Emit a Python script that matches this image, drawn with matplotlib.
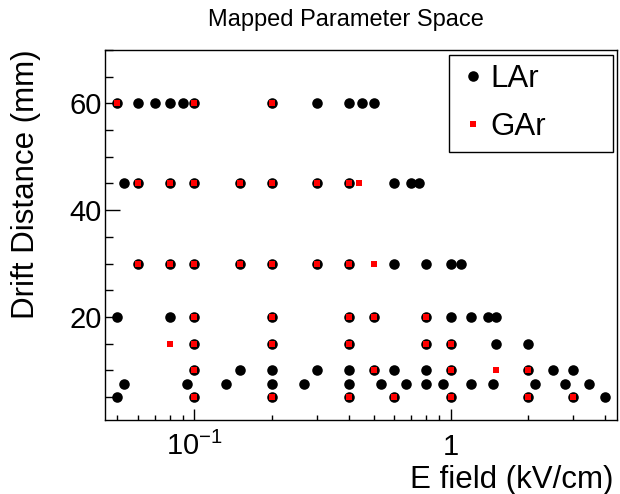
import matplotlib.pyplot as plt
from matplotlib.ticker import LogLocator, MultipleLocator, NullFormatter, FixedLocator

plt.rcParams['font.family'] = ['Liberation Sans', 'DejaVu Sans']
plt.rcParams['mathtext.fontset'] = 'custom'
plt.rcParams['mathtext.rm'] = 'Liberation Sans'

# drift distances (mm) and the fields (kV/cm) scanned at each one
distances = [60, 45, 30, 20, 15, 10, 7.5, 5]

lar_fields = [
    [0.05, 0.06, 0.07, 0.08, 0.09, 0.1, 0.2, 0.3, 0.4, 0.45, 0.5],
    [0.0533, 0.06, 0.08, 0.1, 0.15, 0.2, 0.3, 0.4, 0.6, 0.7, 0.75],
    [0.06, 0.08, 0.1, 0.15, 0.2, 0.3, 0.4, 0.6, 0.8, 1.0, 1.1],
    [0.05, 0.08, 0.1, 0.2, 0.4, 0.5, 0.8, 1.0, 1.2, 1.4, 1.5],
    [0.1, 0.2, 0.4, 0.8, 1.0, 1.5, 2.0],
    [0.1, 0.15, 0.2, 0.3, 0.4, 0.5, 0.6, 0.8, 1.0, 2.0, 2.5, 3.0],
    [0.0533, 0.0933, 0.133, 0.2, 0.267, 0.4, 0.533, 0.667, 0.8, 0.933,
     1.2, 1.467, 2.133, 2.8, 3.467],
    [0.05, 0.1, 0.2, 0.4, 0.6, 1.0, 2.0, 3.0, 4.0],
]

gar_fields = [
    [0.05, 0.1, 0.2],
    [0.06, 0.08, 0.1, 0.15, 0.2, 0.3, 0.4, 0.44],
    [0.06, 0.08, 0.1, 0.15, 0.2, 0.3, 0.4, 0.5],
    [0.1, 0.2, 0.4, 0.5, 0.8],
    [0.08, 0.1, 0.2, 0.4, 0.8, 1.0],
    [0.1, 0.5, 1.0, 1.5, 2.0],
    [],
    [0.1, 0.2, 0.4, 0.6, 1.0, 2.0, 3.0],
]

lar_x, lar_y = [], []
for d, es in zip(distances, lar_fields):
    lar_x += es
    lar_y += [d] * len(es)

gar_x, gar_y = [], []
for d, es in zip(distances, gar_fields):
    gar_x += es
    gar_y += [d] * len(es)

fig = plt.figure(figsize=(6.2, 4.94), dpi=100)
ax = fig.add_axes([105 / 620, 74 / 494, 512 / 620, 370 / 494])

ax.plot(lar_x, lar_y, 'o', color='black', ms=7.6, mew=0, label='LAr')
ax.plot(gar_x, gar_y, 's', color='red', ms=5.0, mew=0, label='GAr')

ax.set_xscale('log')
ax.set_xlim(0.0448, 4.45)
ax.set_ylim(0.7, 70)

ax.xaxis.set_major_locator(FixedLocator([0.1, 1]))
ax.set_xticklabels([r'$\mathregular{10^{-1}}$', '1'])
ax.xaxis.set_minor_locator(LogLocator(base=10, subs=range(2, 10)))
ax.xaxis.set_minor_formatter(NullFormatter())
ax.yaxis.set_major_locator(MultipleLocator(20))
ax.yaxis.set_minor_locator(MultipleLocator(5))

for s in ax.spines.values():
    s.set_linewidth(1.0)
ax.tick_params(axis='x', which='major', direction='in', length=7.7, width=1,
               labelsize=21, pad=25)
ax.tick_params(axis='x', which='minor', direction='in', length=3.6, width=1)
ax.tick_params(axis='y', which='major', direction='in', length=10.8, width=1,
               labelsize=21, pad=2.5)
ax.tick_params(axis='y', which='minor', direction='in', length=5.8, width=1)
for lbl in ax.get_xticklabels():
    lbl.set_va('baseline')

ax.legend(loc='upper left', bbox_to_anchor=(0.672, 0.735, 0.32, 0.2515),
          mode='expand', borderaxespad=0, fancybox=False, edgecolor='black',
          framealpha=1, fontsize=22.5, handlelength=0.96, handletextpad=0.05,
          borderpad=0.3, labelspacing=0.57)
ax.get_legend().get_frame().set_linewidth(1.0)

fig.text(346 / 620, 1 - 20 / 494, 'Mapped Parameter Space', ha='center',
         va='center', fontsize=17)
fig.text(613 / 620, 1 - 488 / 494, 'E field (kV/cm)', ha='right',
         va='baseline', fontsize=22.5)
fig.text(26 / 620, 1 - 49 / 494, 'Drift Distance (mm)', rotation=90,
         ha='center', va='top', fontsize=22.5)

fig.savefig('out.png', dpi=100)
